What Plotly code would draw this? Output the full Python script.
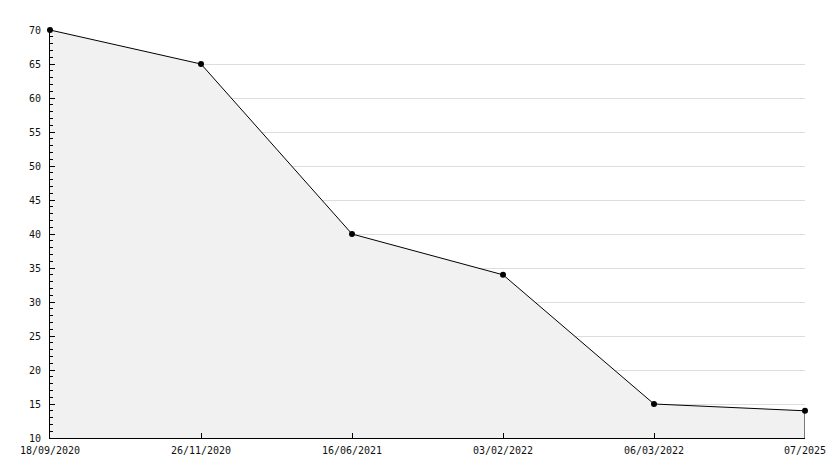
import plotly.graph_objects as go

dates = ["18/09/2020", "26/11/2020", "16/06/2021", "03/02/2022", "06/03/2022", "07/2025"]
values = [70, 65, 40, 34, 15, 14]
y_min, y_max = 10, 70

xs = list(range(len(dates)))

fig = go.Figure()
fig.add_trace(go.Scatter(
    x=xs, y=values, mode="lines+markers",
    fill="tozeroy", fillcolor="#f1f1f1",
    line=dict(color="black", width=1),
    marker=dict(color="black", size=6, symbol="circle"),
    cliponaxis=False, hoverinfo="skip", showlegend=False,
))
# closing edge of the area at the last point
fig.add_trace(go.Scatter(
    x=[xs[-1], xs[-1]], y=[y_min, values[-1]], mode="lines",
    line=dict(color="black", width=1), hoverinfo="skip", showlegend=False,
))

font = dict(family="DejaVu Sans Mono", size=10, color="#111")
fig.update_layout(
    width=834, height=468,
    margin=dict(l=50, r=29, t=30, b=30, autoexpand=False),
    paper_bgcolor="white", plot_bgcolor="white",
    font=font,
    xaxis=dict(
        range=[xs[0], xs[-1]], tickvals=xs, ticktext=dates,
        showgrid=False, zeroline=False,
        showline=True, linecolor="black", linewidth=1,
        ticks="inside", ticklen=5, tickcolor="black", tickfont=font,
        ticklabelstandoff=3,
    ),
    yaxis=dict(
        range=[y_min, y_max], dtick=5, tick0=10,
        showgrid=True, gridcolor="#dddddd", gridwidth=1, zeroline=False,
        showline=True, linecolor="black", linewidth=1,
        ticks="inside", ticklen=5, tickcolor="black", tickfont=font,
        ticklabelstandoff=6,
        minor=dict(dtick=1, ticks="inside", ticklen=3, tickcolor="black", showgrid=False),
    ),
)
fig.write_html("out.html", config={"displayModeBar": False},
               post_script="document.body.style.margin='0';")
